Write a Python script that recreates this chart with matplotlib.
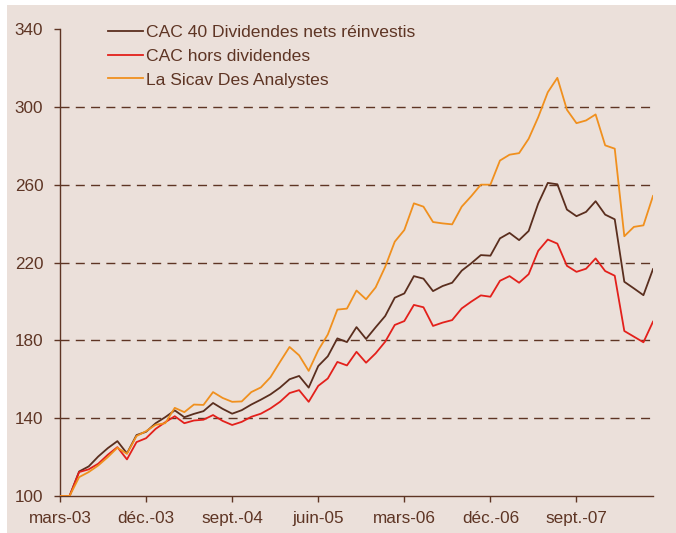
import matplotlib
matplotlib.use("Agg")
import matplotlib.pyplot as plt
from matplotlib.patches import Rectangle

# Monthly index values, base 100 in March 2003 (63 months: mars-03 .. mai-08)
cac_net = [
    100, 100, 112.6, 115.2, 120.3, 124.6, 128.2, 121.9, 131.3, 133.0,
    137.4, 140.5, 144.0, 140.5, 142.2, 143.6, 147.8, 144.8, 142.3, 144.1,
    147.0, 149.5, 152.2, 155.7, 160.0, 161.7, 155.7, 166.8, 171.8, 181.0,
    179.1, 186.8, 180.7, 186.7, 192.5, 201.9, 204.1, 213.0, 211.7, 205.3,
    207.9, 209.6, 215.8, 219.6, 223.8, 223.5, 232.4, 235.2, 231.5, 236.2,
    250.3, 260.9, 260.2, 247.2, 243.8, 246.0, 251.5, 244.6, 242.2, 210.1,
    206.7, 203.2, 216.6,
]
cac_price = [
    100, 100, 112.3, 113.7, 116.6, 121.2, 125.1, 118.8, 127.7, 129.7,
    134.5, 137.9, 141.0, 137.4, 138.8, 139.2, 141.6, 138.6, 136.5, 138.1,
    140.7, 142.3, 145.0, 148.4, 152.9, 154.4, 148.4, 156.6, 160.4, 168.9,
    167.1, 174.1, 168.5, 173.3, 179.3, 187.9, 189.9, 198.2, 197.0, 187.4,
    189.1, 190.4, 196.4, 199.9, 203.1, 202.4, 210.6, 213.0, 209.6, 214.0,
    226.0, 231.8, 229.7, 218.3, 215.2, 216.8, 222.1, 215.6, 213.2, 184.8,
    181.9, 179.0, 189.6,
]
sicav = [
    100, 100, 109.7, 112.3, 115.7, 120.0, 124.8, 121.7, 130.8, 133.3,
    136.6, 137.4, 145.3, 143.1, 147.0, 146.8, 153.4, 150.4, 148.4, 148.6,
    153.4, 155.8, 161.0, 168.9, 176.6, 172.3, 164.3, 174.9, 183.0, 195.8,
    196.3, 205.6, 201.1, 207.2, 217.8, 230.7, 236.7, 250.4, 248.7, 240.8,
    240.1, 239.6, 248.7, 254.1, 260.0, 260.0, 272.4, 275.4, 276.2, 283.6,
    294.7, 307.5, 314.9, 298.5, 291.6, 293.0, 296.1, 280.2, 278.5, 233.5,
    238.3, 239.1, 254.2,
]
series_names = [
    "CAC 40 Dividendes nets réinvestis",
    "CAC hors dividendes",
    "La Sicav Des Analystes",
]
tick_labels = ["mars-03", "déc.-03", "sept.-04", "juin-05",
               "mars-06", "déc.-06", "sept.-07"]
y_ticks = [100, 140, 180, 220, 260, 300, 340]
grid_levels = [140, 180, 220, 260, 300]

BG = "#ebe0da"
INK = "#5e3524"
COLORS = ["#5a2e1e", "#e3201b", "#f0901e"]

plt.rcParams["font.family"] = ["Liberation Sans", "DejaVu Sans"]

fig = plt.figure(figsize=(6.76, 5.33), dpi=100, facecolor="white")
fig.patches.append(Rectangle((7 / 676, 0), 1, 1 - 5 / 533,
                             transform=fig.transFigure, facecolor=BG,
                             edgecolor="none", zorder=-10))
ax = fig.add_axes([60 / 676, 37 / 533, 593 / 676, 467 / 533])
ax.set_facecolor(BG)

x = list(range(len(cac_net)))
for vals, name, col in zip([cac_net, cac_price, sicav], series_names, COLORS):
    ax.plot(x, vals, color=col, lw=1.3, label=name, zorder=3)

for lvl in grid_levels:
    ax.axhline(lvl, color=INK, lw=1.0, ls=(0, (6.5, 4.5)), zorder=1)

ax.set_xlim(0, len(x) - 1)
ax.set_ylim(100, 340)
ax.set_xticks(range(0, 9 * len(tick_labels), 9))
ax.set_xticklabels(tick_labels)
ax.set_yticks(y_ticks)

for side in ("top", "right"):
    ax.spines[side].set_visible(False)
for side in ("left", "bottom"):
    ax.spines[side].set_color(INK)
    ax.spines[side].set_linewidth(1.0)
ax.tick_params(colors=INK, labelcolor=INK, labelsize=12.3, length=4, width=1.0)
ax.tick_params(axis="x", pad=7)
ax.tick_params(axis="y", pad=8)

leg = ax.legend(loc="upper left", bbox_to_anchor=(108 / 676, 1 - 25 / 533),
                bbox_transform=fig.transFigure, frameon=False, fontsize=12.6,
                handlelength=2.0, handletextpad=0.2, labelspacing=0.48,
                borderpad=0, borderaxespad=0)
for t in leg.get_texts():
    t.set_color(INK)

fig.savefig("out.png", dpi=100, facecolor="white")
